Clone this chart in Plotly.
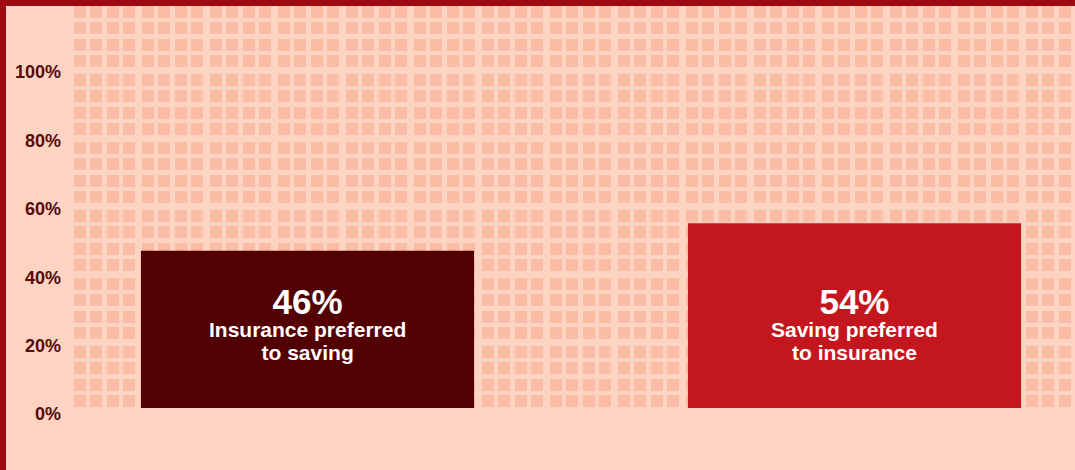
import plotly.graph_objects as go

# ---- data ----
categories = ["Insurance preferred to saving", "Saving preferred to insurance"]
values = [46, 54]
value_labels = ["46%", "54%"]
sub_labels = [["Insurance preferred", "to saving"], ["Saving preferred", "to insurance"]]
bar_colors = ["#520003", "#c4161e"]
tick_vals = [0, 20, 40, 60, 80, 100]
tick_text = ["0%", "20%", "40%", "60%", "80%", "100%"]

W, H = 1075, 470
BG = "#fdd3c1"
SQ = "#fbbca5"
BORDER = "#9c0a12"
TICK = "#560a0a"
FONT = "Liberation Sans, Arial, sans-serif"

# decorative background pattern (pixel coordinates)
offs = [0, 16, 33, 49]
px_x = [74 + 68 * g + o + 6 for g in range(16) for o in offs]
px_y = [6 + 68 * g + o + 6 for g in range(6) for o in offs]
pat_x = [x for y in px_y for x in px_x]
pat_y = [y for y in px_y for x in px_x]

fig = go.Figure()
fig.add_trace(go.Scatter(
    x=pat_x, y=pat_y, mode="markers", xaxis="x", yaxis="y",
    marker=dict(symbol="square", size=12, color=SQ, line=dict(width=0)),
    hoverinfo="skip", showlegend=False,
))

xpos = list(range(len(categories)))
fig.add_trace(go.Bar(
    x=xpos, y=values, xaxis="x2", yaxis="y2",
    width=0.609, marker=dict(color=bar_colors, line=dict(width=0)),
    hoverinfo="skip", showlegend=False,
))

for i, (v, sub) in enumerate(zip(value_labels, sub_labels)):
    txt = ("<b><span style='font-size:35px'>%s</span></b><br>" % v
           + "<br>".join("<b><span style='font-size:21px'>%s</span></b>" % s for s in sub))
    fig.add_annotation(
        x=xpos[i], y=37.4, xref="x2", yref="y2", text=txt, showarrow=False,
        xanchor="center", yanchor="top", align="center",
        font=dict(family=FONT, size=17.5, color="white"),
    )

y0_px, ytop_px = 408, 6
unit = 342 / 100.0
fig.update_layout(
    width=W, height=H, margin=dict(l=0, r=0, t=0, b=0, autoexpand=False),
    showlegend=False,
    paper_bgcolor=BG, plot_bgcolor="rgba(0,0,0,0)",
    xaxis=dict(domain=[0, 1], range=[0, W], visible=False, fixedrange=True),
    yaxis=dict(domain=[0, 1], range=[H, 0], visible=False, fixedrange=True),
    xaxis2=dict(domain=[74 / W, 1], range=[(74 - 307.5) / 547, (1075 - 307.5) / 547],
                anchor="y2", visible=False, fixedrange=True),
    yaxis2=dict(domain=[(H - y0_px) / H, (H - ytop_px) / H],
                range=[0, (y0_px - ytop_px) / unit], anchor="x2",
                tickvals=tick_vals, ticktext=tick_text, showgrid=False, zeroline=False,
                showline=False, ticks="", ticklabelposition="outside",
                ticklabelstandoff=12, ticklabelshift=6, automargin=False,
                tickfont=dict(family=FONT, size=18, color=TICK, weight="bold"),
                fixedrange=True),
    shapes=[
        dict(type="rect", xref="paper", yref="paper", x0=0, x1=6 / W, y0=0, y1=1,
             fillcolor=BORDER, line=dict(width=0), layer="above"),
        dict(type="rect", xref="paper", yref="paper", x0=0, x1=1, y0=1 - 6 / H, y1=1,
             fillcolor=BORDER, line=dict(width=0), layer="above"),
    ],
)
fig.write_html("out.html", config={"displayModeBar": False})
